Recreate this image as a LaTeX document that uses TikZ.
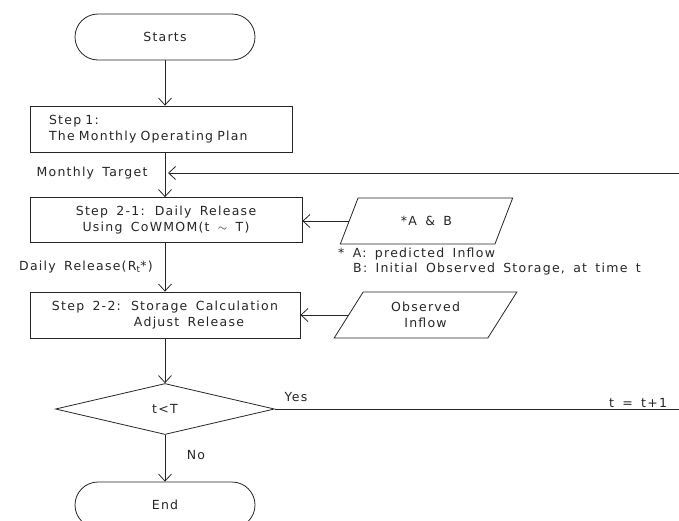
\documentclass[tikz,border=0pt]{standalone}
\usepackage{fontspec}
\setmainfont[LetterSpace=10,WordSpace=1.6]{DejaVu Sans}
\usetikzlibrary{arrows.meta,shapes.geometric,shapes.misc}
\begin{document}
\begin{tikzpicture}[x=1pt,y=-1pt,
  font=\fontsize{12.5}{16}\selectfont,
  every node/.style={text=black!85},
  ln/.style={draw=black!85,line width=0.8pt},
  arr/.style={ln,-{Straight Barb[length=7pt,width=13pt,line width=0.8pt]}},
  term/.style={ln,rounded rectangle,minimum width=180pt,minimum height=46pt,inner sep=0pt},
  proc/.style={ln,rectangle,minimum height=46pt,inner sep=0pt,align=center},
  dataio/.style={ln,trapezium,trapezium stretches=true,minimum height=46pt,align=center,inner sep=0pt},
  lbl/.style={inner sep=0pt}]
\useasboundingbox (0,0) rectangle (679,520);
\clip (0,0) rectangle (679,520);

\node[term] (start) at (165,37) {Starts};
\node[proc,minimum width=262pt,text width=232pt,align=left] (s1) at (161,129) {\hspace*{4pt}Step 1:\\\hspace*{4pt}The Monthly Operating Plan};
\node[proc,minimum width=272pt,minimum height=45pt] (s21) at (166,220) {Step 2-1: Daily Release\\Using CoWMOM(t $\sim$ T)};
\node[proc,minimum width=270pt] (s22) at (165,315) {Step 2-2: Storage Calculation\\\hspace*{48pt}Adjust Release};
\node[ln,diamond,minimum width=219pt,minimum height=51pt,inner sep=0pt] (dec) at (165,409) {t<T};
\node[term] (end) at (165,505) {End};

\node[dataio,minimum width=173pt,trapezium left angle=55,trapezium right angle=125] (ab) at (426.5,221) {*A \& B};
\node[dataio,minimum width=183pt,trapezium left angle=58,trapezium right angle=122] (obs) at (425.5,315) {Observed\\Inflow};

\node[lbl,anchor=west] (noteA) at (338,254) {* A: predicted Inflow};
\node[lbl,anchor=west] (noteB) at (353,269) {B: Initial Observed Storage, at time t};

\node[lbl] (mtl) at (92,173) {Monthly Target};
\node[lbl] (drl) at (86,267) {Daily Release(R\textsubscript{t}*)};
\node[lbl] (yes) at (296,397) {Yes};
\node[lbl] (no) at (196,455) {No};
\node[lbl] (inc) at (638,403) {t = t+1};

\coordinate (mtR) at (679,173);
\coordinate (mtT) at (168,173);
\coordinate (yesR) at (679,409);

\draw[arr] (start.south -| 165,0) -- (s1.north -| 165,0);
\draw[arr] (s1.south -| 165,0) -- (s21.north -| 165,0);
\draw[arr] (s21.south -| 165,0) -- (s22.north -| 165,0);
\draw[arr] (s22.south -| 165,0) -- (dec.north);
\draw[arr] (dec.south) -- (end.north);
\draw[arr] (mtR) -- (mtT);
\draw[ln] (dec.east) -- (yesR);
\draw[arr] (ab.west) -- (ab.west -| s21.east);
\draw[arr] (obs.west) -- (obs.west -| s22.east);
\end{tikzpicture}
\end{document}
